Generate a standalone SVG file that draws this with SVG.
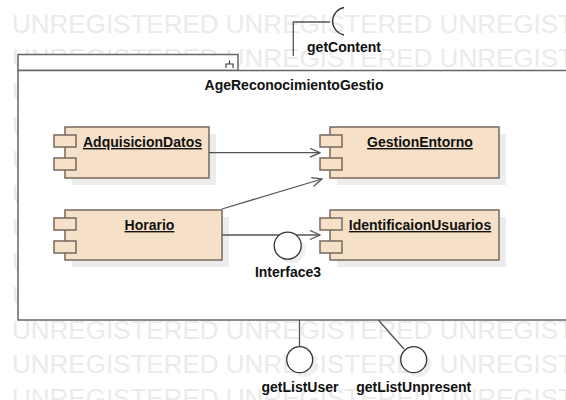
<svg xmlns="http://www.w3.org/2000/svg" width="566" height="400" viewBox="0 0 566 400">
<defs>
<style>
.wm{font-family:"Liberation Sans",Arial,sans-serif;font-size:26px;fill:#ebebeb}
.frame{fill:#fff;stroke:#666;stroke-width:1.5}
.comp{fill:#f6e1c8;stroke:#75685e;stroke-width:1.5}
.shadow{fill:#ececec;stroke:none}
.lbl{font-family:"Liberation Sans",Arial,sans-serif;font-size:14px;font-weight:bold;fill:#111;text-anchor:middle}
.ul{text-decoration:underline}
.conn{fill:none;stroke:#555;stroke-width:1.3}
.ball{fill:#fff;stroke:#333;stroke-width:1.3}
</style>
<marker id="open" markerUnits="userSpaceOnUse" markerWidth="12" markerHeight="12" refX="11" refY="5" orient="auto">
<path d="M1,0.5 L11,5 L1,9.5" fill="none" stroke="#555" stroke-width="1.3"/>
</marker>
</defs>
<rect width="566" height="400" fill="#fff"/>
<g id="watermark">
<text class="wm" x="12" y="32.6">UNREGISTERED UNREGISTERED UNREGISTERED</text>
<text class="wm" x="12" y="66.6">UNREGISTERED UNREGISTERED UNREGISTERED</text>
<text class="wm" x="12" y="100.6">UNREGISTERED UNREGISTERED UNREGISTERED</text>
<text class="wm" x="12" y="134.6">UNREGISTERED UNREGISTERED UNREGISTERED</text>
<text class="wm" x="12" y="168.6">UNREGISTERED UNREGISTERED UNREGISTERED</text>
<text class="wm" x="12" y="202.6">UNREGISTERED UNREGISTERED UNREGISTERED</text>
<text class="wm" x="12" y="236.6">UNREGISTERED UNREGISTERED UNREGISTERED</text>
<text class="wm" x="12" y="270.6">UNREGISTERED UNREGISTERED UNREGISTERED</text>
<text class="wm" x="12" y="304.6">UNREGISTERED UNREGISTERED UNREGISTERED</text>
<text class="wm" x="12" y="338.6">UNREGISTERED UNREGISTERED UNREGISTERED</text>
<text class="wm" x="12" y="372.6">UNREGISTERED UNREGISTERED UNREGISTERED</text>
<text class="wm" x="12" y="406.6">UNREGISTERED UNREGISTERED UNREGISTERED</text>
</g>
<g id="AgeReconocimientoGestio">
<rect class="frame" x="18" y="54.5" width="220" height="16"/>
<rect class="frame" x="18" y="70.5" width="560" height="249.5"/>
<path d="M229.5,60.5 V64 M226,68 V64 H233 V68" fill="none" stroke="#333" stroke-width="1.1"/>
<text class="lbl" x="294" y="89.5">AgeReconocimientoGestio</text>
</g>
<g id="AdquisicionDatos">
<rect class="shadow" x="72" y="134" width="144" height="51"/>
<rect class="comp" x="65" y="127" width="144" height="51"/>
<rect class="comp" x="54" y="135" width="22" height="12"/>
<rect class="comp" x="54" y="158" width="22" height="12"/>
<text class="lbl ul" x="142.5" y="147">AdquisicionDatos</text>
</g>
<g id="GestionEntorno">
<rect class="shadow" x="337" y="134" width="169" height="51"/>
<rect class="comp" x="330" y="127" width="169" height="51"/>
<rect class="comp" x="320" y="135" width="22" height="12"/>
<rect class="comp" x="320" y="158" width="22" height="12"/>
<text class="lbl ul" x="420" y="147">GestionEntorno</text>
</g>
<g id="Horario">
<rect class="shadow" x="72" y="217" width="157" height="50"/>
<rect class="comp" x="65" y="210" width="157" height="50"/>
<rect class="comp" x="54" y="218" width="22" height="12"/>
<rect class="comp" x="54" y="241" width="22" height="12"/>
<text class="lbl ul" x="149.5" y="230">Horario</text>
</g>
<g id="IdentificaionUsuarios">
<rect class="shadow" x="337" y="217" width="169" height="50"/>
<rect class="comp" x="330" y="210" width="169" height="50"/>
<rect class="comp" x="320" y="218" width="22" height="12"/>
<rect class="comp" x="320" y="241" width="22" height="12"/>
<text class="lbl ul" x="420" y="230">IdentificaionUsuarios</text>
</g>
<g id="connectors">
<line class="conn" x1="209" y1="152.7" x2="320" y2="152.7" marker-end="url(#open)"/>
<line class="conn" x1="222" y1="209" x2="322" y2="179" marker-end="url(#open)"/>
<line class="conn" x1="222" y1="235" x2="320" y2="235" marker-end="url(#open)"/>
<path class="conn" d="M293.3,56 V22 H330"/>
<line class="conn" x1="299.5" y1="320" x2="299.5" y2="346.7"/>
<line class="conn" x1="378.3" y1="320" x2="404" y2="349"/>
</g>
<g id="Interface3">
<circle cx="292" cy="250" r="13.5" fill="#efefef"/>
<circle class="ball" cx="287.7" cy="245.7" r="13.5"/>
<text class="lbl" x="288" y="277">Interface3</text>
</g>
<g id="getContent">
<path d="M344,7.5 A14,14 0 0 0 344,35" fill="none" stroke="#333" stroke-width="1.3"/>
<text class="lbl" x="344" y="52">getContent</text>
</g>
<g id="getListUser">
<circle cx="304" cy="364" r="13" fill="#efefef"/>
<circle class="ball" cx="299.7" cy="359.7" r="13"/>
<text class="lbl" x="300" y="392">getListUser</text>
</g>
<g id="getListUnpresent">
<circle cx="418" cy="364" r="13" fill="#efefef"/>
<circle class="ball" cx="413.7" cy="359.7" r="13"/>
<text class="lbl" x="413.7" y="392">getListUnpresent</text>
</g>
</svg>
